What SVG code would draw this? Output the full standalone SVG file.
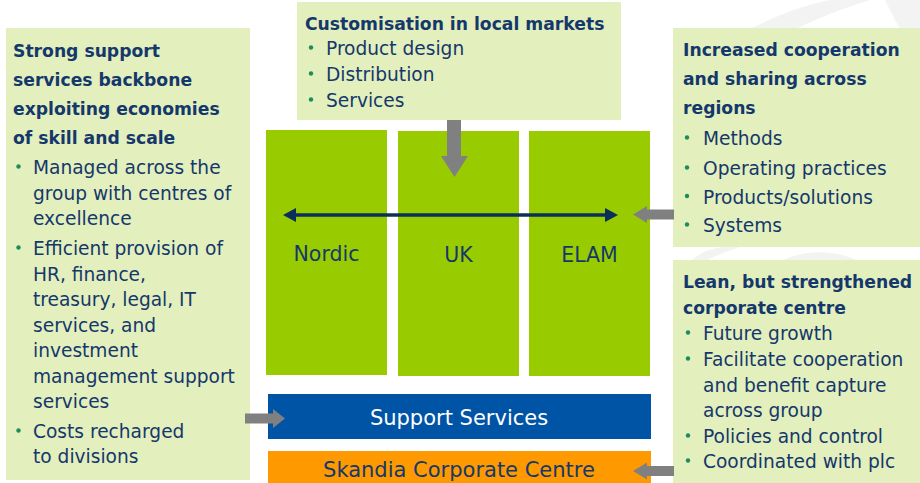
<svg xmlns="http://www.w3.org/2000/svg" width="920" height="483" viewBox="0 0 920 483">
<style>
.box{fill:#E3EFBD}
.col{fill:#99CC00}
.h{font-family:"DejaVu Sans",Verdana,sans-serif;font-weight:bold;font-size:17.2px;fill:#14386B}
.t{font-family:"DejaVu Sans",Verdana,sans-serif;font-size:18.6px;fill:#14386B}
.b{fill:#1E8C5A}
.lab{font-family:"DejaVu Sans",Verdana,sans-serif;font-size:20.5px;fill:#14386B;text-anchor:middle}
.arr{fill:#808080}
.wm{fill:#F3F3F3}
</style>
<rect width="920" height="483" fill="#FFFFFF"/>
<g id="watermark">
<path class="wm" d="M700,60 C740,30 790,8 830,0 L870,0 C820,15 770,40 740,60 Z"/>
<path class="wm" d="M885,0 L920,0 L920,60 C905,40 895,20 885,0 Z"/>
<path class="wm" d="M690,262 C700,252 712,248 724,247 L740,247 C725,252 712,257 705,262 Z"/>
<path class="wm" d="M780,262 C800,250 835,248 860,262 Z"/>
</g>
<g id="cols">
<g id="nordic"><rect class="col" x="266" y="130" width="121" height="245"/><text class="lab" x="326.5" y="261">Nordic</text></g>
<g id="uk"><rect class="col" x="398" y="131" width="121" height="245"/><text class="lab" x="458.5" y="262">UK</text></g>
<g id="elam"><rect class="col" x="529" y="131" width="121" height="245"/><text class="lab" x="589.5" y="262">ELAM</text></g>
</g>
<g id="support-services"><rect x="268" y="394" width="383" height="45" fill="#0054A6"/><text class="lab" x="459" y="425" style="fill:#FFFFFF;font-size:21px">Support Services</text></g>
<g id="corporate-centre"><rect x="268" y="451" width="383" height="32" fill="#FF9900"/><text class="lab" x="459" y="477" style="font-size:21px">Skandia Corporate Centre</text></g>
<g id="left-box">
<rect class="box" x="6" y="28" width="244" height="452"/>
<text class="h" x="13" y="57">Strong support</text>
<text class="h" x="13" y="86">services backbone</text>
<text class="h" x="13" y="115">exploiting economies</text>
<text class="h" x="13" y="144">of skill and scale</text>
<circle class="b" cx="18.5" cy="166.5" r="2.2"/>
<text class="t" x="33" y="174">Managed across the</text>
<text class="t" x="33" y="199.5">group with centres of</text>
<text class="t" x="33" y="225">excellence</text>
<circle class="b" cx="18.5" cy="247.5" r="2.2"/>
<text class="t" x="33" y="255">Efficient provision of</text>
<text class="t" x="33" y="280.5">HR, finance,</text>
<text class="t" x="33" y="306">treasury, legal, IT</text>
<text class="t" x="33" y="331.5">services, and</text>
<text class="t" x="33" y="357">investment</text>
<text class="t" x="33" y="382.5">management support</text>
<text class="t" x="33" y="408">services</text>
<circle class="b" cx="18.5" cy="430.5" r="2.2"/>
<text class="t" x="33" y="438">Costs recharged</text>
<text class="t" x="33" y="463">to divisions</text>
</g>
<g id="top-box">
<rect class="box" x="297" y="2" width="324" height="118"/>
<text class="h" x="305" y="30">Customisation in local markets</text>
<circle class="b" cx="311" cy="47.5" r="2.2"/>
<text class="t" x="326" y="55">Product design</text>
<circle class="b" cx="311" cy="73.5" r="2.2"/>
<text class="t" x="326" y="81">Distribution</text>
<circle class="b" cx="311" cy="99.5" r="2.2"/>
<text class="t" x="326" y="107">Services</text>
</g>
<g id="right-top-box">
<rect class="box" x="673" y="28" width="247" height="219"/>
<text class="h" x="683" y="56">Increased cooperation</text>
<text class="h" x="683" y="85">and sharing across</text>
<text class="h" x="683" y="114">regions</text>
<circle class="b" cx="687" cy="137.5" r="2.2"/>
<text class="t" x="703" y="145">Methods</text>
<circle class="b" cx="687" cy="167.5" r="2.2"/>
<text class="t" x="703" y="175">Operating practices</text>
<circle class="b" cx="687" cy="196" r="2.2"/>
<text class="t" x="703" y="203.5">Products/solutions</text>
<circle class="b" cx="687" cy="224.5" r="2.2"/>
<text class="t" x="703" y="232">Systems</text>
</g>
<g id="right-bottom-box">
<rect class="box" x="673" y="260" width="247" height="223"/>
<text class="h" x="683" y="288">Lean, but strengthened</text>
<text class="h" x="683" y="314">corporate centre</text>
<circle class="b" cx="688" cy="332.5" r="2.2"/>
<text class="t" x="703" y="340">Future growth</text>
<circle class="b" cx="688" cy="358.5" r="2.2"/>
<text class="t" x="703" y="366">Facilitate cooperation</text>
<text class="t" x="703" y="391.5">and benefit capture</text>
<text class="t" x="703" y="417">across group</text>
<circle class="b" cx="688" cy="435.5" r="2.2"/>
<text class="t" x="703" y="443">Policies and control</text>
<circle class="b" cx="688" cy="460.5" r="2.2"/>
<text class="t" x="703" y="468">Coordinated with plc</text>
</g>
<g id="connectors">
<polygon class="arr" points="447,120 461,120 461,156 468,156 454.5,177 441,156 447,156"/>
<line x1="292" y1="215" x2="609" y2="215" stroke="#0B2F5B" stroke-width="3.5"/>
<polygon fill="#0B2F5B" points="283,215 296,208 296,222"/>
<polygon fill="#0B2F5B" points="618,215 605,208 605,222"/>
<polygon class="arr" points="674,209.5 647,209.5 647,206 633,214.5 647,223 647,219.5 674,219.5"/>
<polygon class="arr" points="245,413.5 273,413.5 273,409 285,418.5 273,428 273,423.5 245,423.5"/>
<polygon class="arr" points="674,466 647,466 647,462.5 633,471 647,479.5 647,476 674,476"/>
</g>
</svg>
